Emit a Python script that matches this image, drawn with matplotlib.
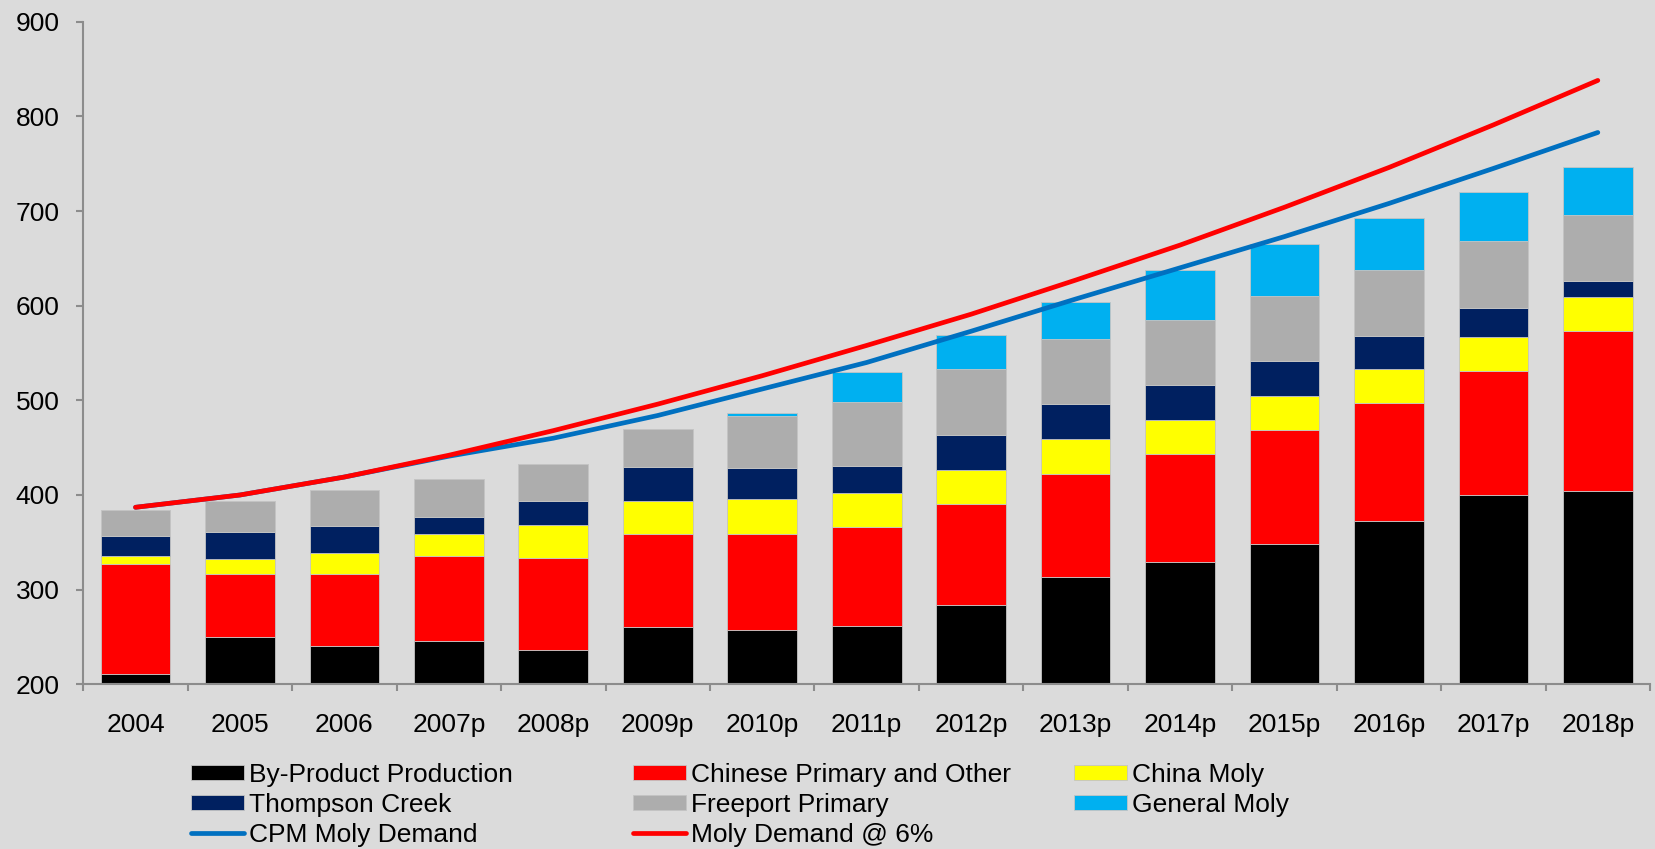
#!/usr/bin/env python3
# -*- coding: utf-8 -*-
"""Moly supply by source vs. demand projections, 2004-2018p (stacked bars + demand lines)."""
import matplotlib

matplotlib.use("Agg")
import matplotlib.pyplot as plt
import numpy as np

years = ["2004", "2005", "2006", "2007p", "2008p", "2009p", "2010p", "2011p",
         "2012p", "2013p", "2014p", "2015p", "2016p", "2017p", "2018p"]

# supply segments, million lbs
by_product = [211, 250, 240, 246, 236, 261, 257, 262, 284, 313, 329, 348, 373, 400, 404]
chinese_primary = [116, 67, 77, 90, 97, 98, 102, 104, 106, 109, 114, 121, 124, 131, 169]
china_moly = [9, 15, 22, 23, 35, 35, 37, 36, 36, 37, 36, 36, 36, 36, 36]
thompson_creek = [21, 29, 28, 18, 26, 36, 32, 29, 37, 37, 37, 37, 35, 31, 17]
freeport_primary = [27, 33, 38, 40, 39, 40, 55, 67, 70, 69, 69, 68, 70, 70, 70]
general_moly = [0, 0, 0, 0, 0, 0, 4, 32, 36, 39, 53, 55, 55, 52, 51]

# demand
cpm_demand = [387, 400, 419, 441, 460, 484, 512, 540, 573, 607, 640, 673, 708, 745, 783]
demand_6pct = [387, 400, 419, 442, 468, 496, 526, 558, 591, 627, 664, 704, 746, 791, 838]

BG = "#DBDBDB"
AXIS_GREY = "#8C8C8C"

plt.rcParams["font.family"] = ["Liberation Sans", "DejaVu Sans"]

fig = plt.figure(figsize=(16.56, 8.49), dpi=100, facecolor=BG)
ax = fig.add_axes((0.0503, 0.194, 0.9461, 0.7804), facecolor=BG)

x = np.arange(len(years))
segments = [
    ("By-Product Production", by_product, "#000000"),
    ("Chinese Primary and Other", chinese_primary, "#FF0000"),
    ("China Moly", china_moly, "#FFFF00"),
    ("Thompson Creek", thompson_creek, "#002060"),
    ("Freeport Primary", freeport_primary, "#ADADAD"),
    ("General Moly", general_moly, "#00B0F0"),
]
bottom = np.zeros(len(years))
bar_handles = {}
for label, values, color in segments:
    vals = np.array(values, dtype=float)
    bars = ax.bar(x, vals, bottom=bottom, width=0.667, color=color,
                  edgecolor="#C4C4C4", linewidth=0.6, label=label, zorder=2)
    bar_handles[label] = bars
    bottom += vals

(cpm_line,) = ax.plot(x, cpm_demand, color="#0070C0", lw=3.4,
                      solid_capstyle="round", label="CPM Moly Demand", zorder=3)
(six_line,) = ax.plot(x, demand_6pct, color="#FF0000", lw=3.4,
                      solid_capstyle="round", label="Moly Demand @ 6%", zorder=4)

ax.set_xlim(-0.5, len(years) - 0.5)
ax.set_ylim(200, 900)
ax.set_yticks(np.arange(200, 901, 100))
ax.set_xticks(x)
ax.set_xticklabels(years)
ax.set_xticks(np.arange(-0.5, len(years), 1.0), minor=True)

for side in ("top", "right"):
    ax.spines[side].set_visible(False)
for side in ("left", "bottom"):
    ax.spines[side].set_color(AXIS_GREY)
    ax.spines[side].set_linewidth(1.5)

ax.tick_params(axis="x", which="major", length=0, pad=21, labelsize=19)
ax.tick_params(axis="x", which="minor", length=5, width=1.5, color=AXIS_GREY, direction="out")
ax.tick_params(axis="y", which="major", length=5, width=1.5, color=AXIS_GREY,
               direction="out", pad=12, labelsize=19)
ax.grid(False)

# three legend columns placed separately, like the original layout
columns = [
    (191, [bar_handles["By-Product Production"], bar_handles["Thompson Creek"], cpm_line]),
    (633, [bar_handles["Chinese Primary and Other"], bar_handles["Freeport Primary"], six_line]),
    (1074, [bar_handles["China Moly"], bar_handles["General Moly"]]),
]
W, H = 1656, 849
for x_px, handles in columns:
    fig.legend(
        handles=handles,
        labels=[h.get_label() for h in handles],
        loc="upper left",
        bbox_to_anchor=(x_px / W, 1 - 763 / H),
        frameon=False,
        fontsize=19,
        borderpad=0,
        borderaxespad=0,
        handlelength=2.0,
        handleheight=0.5,
        handletextpad=0.2,
        labelspacing=0.22,
    )

fig.savefig("out.png", dpi=100, facecolor=BG)
